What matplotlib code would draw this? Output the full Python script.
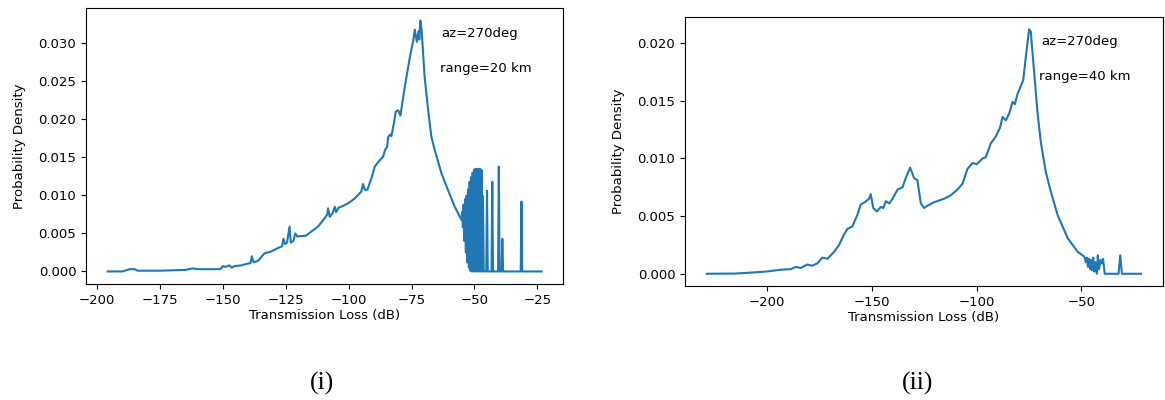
import matplotlib.pyplot as plt

# transmission loss pdf, az=270deg, range 20 km
tl_20km = [-195.8, -190, -188, -187, -185, -184, -175, -165, -162, -160, -151, -150, -149, -147.5, -146.5,
           -145.5, -142.7, -140.5, -139, -138.5, -137.8, -136, -133.4, -131, -128, -126.5, -125.9, -125.3,
           -124.5, -123.5, -123.0, -122, -121.2, -120.5, -117, -115, -112.2, -110, -108.5, -108.2, -107.5,
           -106.5, -105.5, -105, -104, -103, -100, -97.6, -95, -94.3, -93.5, -92.5, -91, -89.6, -88, -86.3,
           -85.5, -84.7, -84.3, -83.5, -83, -82, -81.3, -80.3, -79.4, -78.3, -77, -75.6, -74.3, -73.7, -72.9,
           -72.2, -71.9, -71.5, -71.0, -69.8, -68.4, -67.1, -65.8, -63.1, -60.5, -57.8, -55.2,
           -54.9, -54.6, -54.3, -54.0, -53.7, -53.4, -53.1, -52.8, -52.5, -52.2, -51.9, -51.6, -51.3, -51.0,
           -50.7, -50.4, -50.1, -49.8, -49.5, -49.2, -48.9, -48.6, -48.3, -48.0, -47.7, -47.4, -47.1, -46.9,
           -46.6, -46.3, -45.3, -45.0, -44.7, -43.2, -42.9, -42.6, -40.6, -40.3, -40.0, -39.2, -38.9, -38.6,
           -31.6, -31.3, -31.0, -23.3]
pd_20km = [0, 0.0000, 0.0002, 0.0003, 0.0003, 0.0001, 0.0001, 0.0002, 0.0004, 0.0003, 0.0003, 0.0007, 0.0006,
           0.0008, 0.0005, 0.0007, 0.0008, 0.0010, 0.0011, 0.0020, 0.0012, 0.0014, 0.0024, 0.0026, 0.0031,
           0.0033, 0.0043, 0.0036, 0.0038, 0.0059, 0.0038, 0.0040, 0.0050, 0.0046, 0.0047, 0.0052, 0.0059,
           0.0068, 0.0075, 0.0083, 0.0072, 0.0076, 0.0085, 0.0078, 0.0084, 0.0085, 0.0090, 0.0096, 0.0105,
           0.0115, 0.0107, 0.0108, 0.0122, 0.0138, 0.0145, 0.0151, 0.0160, 0.0164, 0.0177, 0.0180, 0.0178,
           0.0195, 0.0210, 0.0212, 0.0205, 0.0230, 0.0256, 0.0283, 0.0304, 0.0318, 0.0302, 0.0316, 0.0305,
           0.0330, 0.0318, 0.0256, 0.0212, 0.0177, 0.0160, 0.0129, 0.0107, 0.0085, 0.0068,
           0.0078, 0.0058, 0.0088, 0.0040, 0.0095, 0.0025, 0.0100, 0.0012, 0.0108, 0.0005, 0.0118, 0.0001,
           0.0124, 0, 0.0130, 0, 0.0134, 0, 0.0135, 0, 0.0135, 0, 0.0135, 0, 0.0135, 0, 0.0133, 0,
           0.0099, 0, 0, 0.0106, 0, 0, 0.0118, 0, 0, 0.0138, 0, 0, 0.0043, 0,
           0, 0.0092, 0, 0]

# transmission loss pdf, az=270deg, range 40 km
tl_40km = [-228.8, -215, -207.8, -200, -193.5, -188.7, -186.3, -184, -180.8, -178.4, -176, -173.6, -171.2,
           -168, -165.6, -163.3, -161.6, -159.3, -156.9, -155.3, -153.4, -151.3, -150.5, -149.3, -147.6,
           -145.7, -144.5, -143.3, -141.7, -140.1, -137.7, -135.3, -133.8, -131.7, -129.8, -128.2, -126.6,
           -125, -123.4, -120.3, -115.5, -112.3, -109.1, -106.7, -104.3, -101.9, -99.9, -97.1, -95.6, -93.2,
           -90.8, -88.7, -87.6, -86, -84.4, -82.8, -81.7, -80.4, -78.8, -77.7, -76.4, -74.9, -74.1, -72.5,
           -70.9, -69.3, -66.9, -64.5, -61.3, -56.5, -51.7, -48.6, -47.8, -47.3, -46.8, -46.3, -45.8, -45.3,
           -44.8, -44.3, -43.8, -43.3, -42.6, -42.1, -41.5, -40.8, -40.2, -39.6, -38.8, -32.2, -31.4, -30.6,
           -21.5]
pd_40km = [0, 0.00002, 0.0001, 0.0002, 0.00035, 0.0004, 0.0006, 0.0005, 0.0008, 0.0007, 0.0009, 0.0014,
           0.0013, 0.0019, 0.0025, 0.0034, 0.0039, 0.0041, 0.0051, 0.0060, 0.0062, 0.0065, 0.0069, 0.0057,
           0.0054, 0.0058, 0.0057, 0.0063, 0.0061, 0.0065, 0.0073, 0.0075, 0.0083, 0.0092, 0.0083, 0.0081,
           0.0061, 0.0057, 0.0059, 0.0062, 0.0065, 0.0068, 0.0073, 0.0078, 0.0091, 0.0096, 0.0095, 0.0100,
           0.0101, 0.0113, 0.0119, 0.0127, 0.0136, 0.0133, 0.0139, 0.0149, 0.0147, 0.0156, 0.0163, 0.0168,
           0.0189, 0.0212, 0.0210, 0.0175, 0.0140, 0.0114, 0.0088, 0.0071, 0.0051, 0.0031, 0.0019, 0.0015,
           0.0010, 0.0014, 0.0006, 0.0013, 0.0004, 0.0012, 0.0003, 0.0014, 0.0002, 0.0010, 0, 0.0016, 0.0004,
           0.0012, 0.0009, 0.0013, 0, 0, 0.0016, 0, 0]

xticks_20km = [-200, -175, -150, -125, -100, -75, -50, -25]
xticks_40km = [-200, -150, -100, -50]
yticks_20km = [0.000, 0.005, 0.010, 0.015, 0.020, 0.025, 0.030]
yticks_40km = [0.000, 0.005, 0.010, 0.015, 0.020]

fs = 9.5
fig = plt.figure(figsize=(11.65, 4.0), dpi=100)
ax1 = fig.add_axes([0.0738, 0.29, 0.4097, 0.69])
ax2 = fig.add_axes([0.588, 0.285, 0.410, 0.6725])

ax1.plot(tl_20km, pd_20km, color="tab:blue", lw=1.5)
ax2.plot(tl_40km, pd_40km, color="tab:blue", lw=1.5)

ax1.text(-63, 0.0308, "az=270deg", fontsize=fs)
ax1.text(-63.5, 0.0262, "range=20 km", fontsize=fs)
ax2.text(-69.3, 0.0198, "az=270deg", fontsize=fs)
ax2.text(-70.1, 0.0168, "range=40 km", fontsize=fs)

ax1.set_xticks(xticks_20km)
ax1.set_yticks(yticks_20km)
ax2.set_xticks(xticks_40km)
ax2.set_yticks(yticks_40km)

for ax in (ax1, ax2):
    ax.set_xlabel("Transmission Loss (dB)", fontsize=fs, labelpad=2)
    ax.set_ylabel("Probability Density", fontsize=fs, labelpad=9)
    ax.tick_params(labelsize=fs)

fig.text(0.2765, 0.025, "(i)", fontsize=18.5, family="Liberation Serif", ha="center")
fig.text(0.788, 0.025, "(ii)", fontsize=18.5, family="Liberation Serif", ha="center")

fig.savefig("out.png", dpi=100)
